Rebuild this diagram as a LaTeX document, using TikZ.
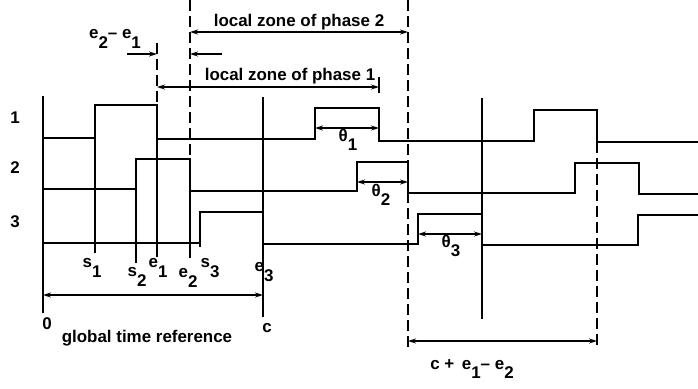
\documentclass[tikz,border=0pt]{standalone}
\usepackage{fontspec}
\setmainfont{Liberation Sans}
\usetikzlibrary{arrows.meta}
\newcommand\lowsub[1]{\raisebox{-0.55em}{#1}}
\begin{document}
\begin{tikzpicture}[x=1bp,y=-1bp,
  sig/.style={line width=1.4bp, line join=miter},
  vline/.style={line width=1.4bp},
  dline/.style={line width=1.4bp, dash pattern=on 11bp off 5bp},
  tip/.tip={Stealth[open,length=8bp,width=5bp]},
  dim/.style={line width=1.2bp, tip-tip},
  onearrow/.style={line width=1.2bp, -tip},
  lab/.style={font=\fontsize{17}{19}\selectfont\bfseries, inner sep=0pt}
]
\useasboundingbox (0,0) rectangle (698,388);

% signals
\draw[sig] (43,138) -- (95,138) -- (95,105) -- (157,105) -- (157,139) -- (315,139) -- (315,108) -- (379,108) -- (379,141) -- (534,141) -- (534,110) -- (597,110) -- (597,142) -- (698,142);
\draw[sig] (43,189) -- (136,189) -- (136,159) -- (190,159) -- (190,191) -- (357,191) -- (357,162) -- (408,162) -- (408,193) -- (575,193) -- (575,163) -- (639,163) -- (639,194) -- (698,194);
\draw[sig] (43,243) -- (200,243) -- (200,212) -- (263,212) -- (263,244) -- (418,244) -- (418,214) -- (482,214) -- (482,245) -- (638,245) -- (638,215) -- (698,215);

% solid vertical markers
\draw[vline] (43,96) -- (43,313);
\draw[vline] (95,105) -- (95,253);
\draw[vline] (136,159) -- (136,263);
\draw[vline] (157,105) -- (157,257);
\draw[vline] (190,159) -- (190,258);
\draw[vline] (200,212) -- (200,247);
\draw[vline] (263,97) -- (263,317);
\draw[vline] (482,98) -- (482,319);
\draw[vline] (379,77) -- (379,93);

% dashed verticals
\draw[dline] (157,43) -- (157,105);
\draw[dline] (190,0) -- (190,159);
\draw[dline] (408,0) -- (408,348);
\draw[dline] (597,142) -- (597,347);

% dimension coordinates
\coordinate (z2a) at (190,32);  \coordinate (z2b) at (408,32);
\coordinate (z1a) at (157,87);  \coordinate (z1b) at (379,87);
\coordinate (dfa) at (127,54);  \coordinate (dfb) at (157,54);
\coordinate (dga) at (222,54);  \coordinate (dgb) at (190,54);
\coordinate (t1a) at (315,128); \coordinate (t1b) at (379,128);
\coordinate (t2a) at (357,182); \coordinate (t2b) at (408,182);
\coordinate (t3a) at (418,234); \coordinate (t3b) at (482,234);
\coordinate (gza) at (43,295);  \coordinate (gzb) at (263,295);
\coordinate (cea) at (408,341); \coordinate (ceb) at (597,341);

\draw[dim] (z2a) -- (z2b);
\draw[dim] (z1a) -- (z1b);
\draw[onearrow] (dfa) -- (dfb);
\draw[onearrow] (dga) -- (dgb);
\draw[dim] (t1a) -- (t1b);
\draw[dim] (t2a) -- (t2b);
\draw[dim] (t3a) -- (t3b);
\draw[dim] (gza) -- (gzb);
\draw[dim] (cea) -- (ceb);

% labels
\node[lab] (lz2) at (299,22) {local zone of phase 2};
\node[lab] (lz1) at (290,76) {local zone of phase 1};
\node[lab] (ediff) at (115,39) {e\lowsub{2}– e\lowsub{1}};
\node[lab] (r1) at (15,118) {1};
\node[lab] (r2) at (15,168) {2};
\node[lab] (r3) at (15,222) {3};
\node[lab] (th1) at (348,140) {θ\lowsub{1}};
\node[lab] (th2) at (381,195) {θ\lowsub{2}};
\node[lab] (th3) at (451,246) {θ\lowsub{3}};
\node[lab] (ls1) at (92,268) {s\lowsub{1}};
\node[lab] (ls2) at (137,277) {s\lowsub{2}};
\node[lab] (le1) at (158,268) {e\lowsub{1}};
\node[lab] (le2) at (188,278) {e\lowsub{2}};
\node[lab] (ls3) at (210,268) {s\lowsub{3}};
\node[lab] (le3) at (264,272) {e\lowsub{3}};
\node[lab] (l0) at (47,324) {0};
\node[lab] (lc) at (267,328) {c};
\node[lab] (lg) at (147,338) {global time reference};
\node[lab] (lce) at (472,369) {c +\, e\lowsub{1}– e\lowsub{2}};
\end{tikzpicture}
\end{document}
